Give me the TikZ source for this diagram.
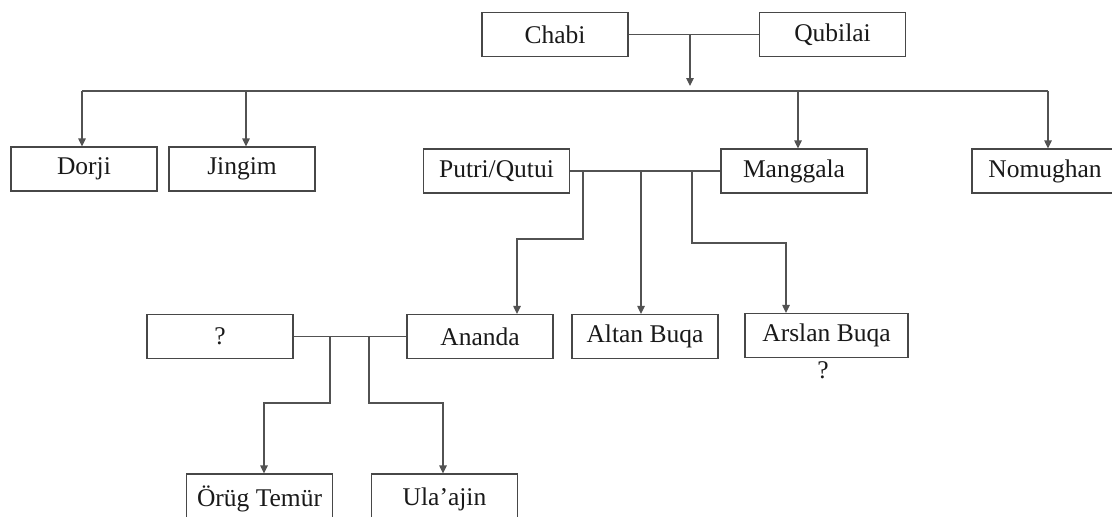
\documentclass[tikz,border=0pt]{standalone}
\usepackage{fontspec}
\setmainfont{Liberation Serif}
\usetikzlibrary{arrows.meta}
\begin{document}
\begin{tikzpicture}[x=1pt,y=-1pt,
  person/.style={draw=black!72, line width=1.2pt, rectangle, minimum width=146pt, minimum height=44pt,
    inner sep=0pt, font=\fontsize{25.5}{29}\selectfont, text=black!90},
  link/.style={draw=black!68, line width=1.2pt},
  arr/.style={link, -{Triangle[width=7.5pt,length=8pt]}},
  lbl/.style={inner sep=0pt, font=\fontsize{25.5}{29}\selectfont, text=black!90}]
\useasboundingbox (0,0) rectangle (1112,517);
% generation 1
\node[person] (chabi) at (555,34.5) {Chabi};
\node[person] (qubilai) at (832.5,34.5) {Qubilai};
% generation 2
\node[person] (dorji) at (84,169) {Dorji};
\node[person] (jingim) at (242,169) {Jingim};
\node[person] (putri) at (496.5,171) {Putri/Qutui};
\node[person] (manggala) at (794,171) {Manggala};
\node[person] (nomughan) at (1045,171) {Nomughan};
% generation 3
\node[person] (unk) at (220,336.5) {?};
\node[person] (ananda) at (480,336.5) {Ananda};
\node[person] (altan) at (645,336.5) {Altan Buqa};
\node[person, minimum width=163pt] (arslan) at (826.5,335.5) {Arslan Buqa};
\node[lbl] (arslanq) at (823,370) {?};
% generation 4
\node[person, minimum height=50pt] (orug) at (259.5,499) {Örüg Temür};
\node[person, minimum height=50pt] (ulaajin) at (444.5,499) {Ula’ajin};
% couple Chabi--Qubilai
\draw[link] (chabi.east) -- (qubilai.west);
\coordinate (c1) at (690,34.5);
\coordinate (c1end) at (690,86);
\draw[arr] (c1) -- (c1end);
\coordinate (barL) at (82,91);
\coordinate (barR) at (1048,91);
\draw[link] (barL) -- (barR);
\coordinate (bJ) at (246,91);
\coordinate (bM) at (798,91);
\draw[arr] (barL) -- (barL |- dorji.north);
\draw[arr] (bJ) -- (bJ |- jingim.north);
\draw[arr] (bM) -- (bM |- manggala.north);
\draw[arr] (barR) -- (barR |- nomughan.north);
% couple Putri--Manggala
\draw[link] (putri.east) -- (manggala.west);
\coordinate (pA) at (583,171);
\coordinate (pAk) at (517,239);
\coordinate (pB) at (641,171);
\coordinate (pC) at (692,171);
\coordinate (pCk) at (786,243);
\draw[arr] (pA) |- (pAk) -- (pAk |- ananda.north);
\draw[arr] (pB) -- (pB |- altan.north);
\draw[arr] (pC) |- (pCk) -- (pCk |- arslan.north);
% couple ?--Ananda
\draw[link] (unk.east) -- (ananda.west);
\coordinate (aO) at (330,336.5);
\coordinate (aOk) at (264,403);
\coordinate (aU) at (369,336.5);
\coordinate (aUk) at (443,403);
\draw[arr] (aO) |- (aOk) -- (aOk |- orug.north);
\draw[arr] (aU) |- (aUk) -- (aUk |- ulaajin.north);
\end{tikzpicture}
\end{document}
